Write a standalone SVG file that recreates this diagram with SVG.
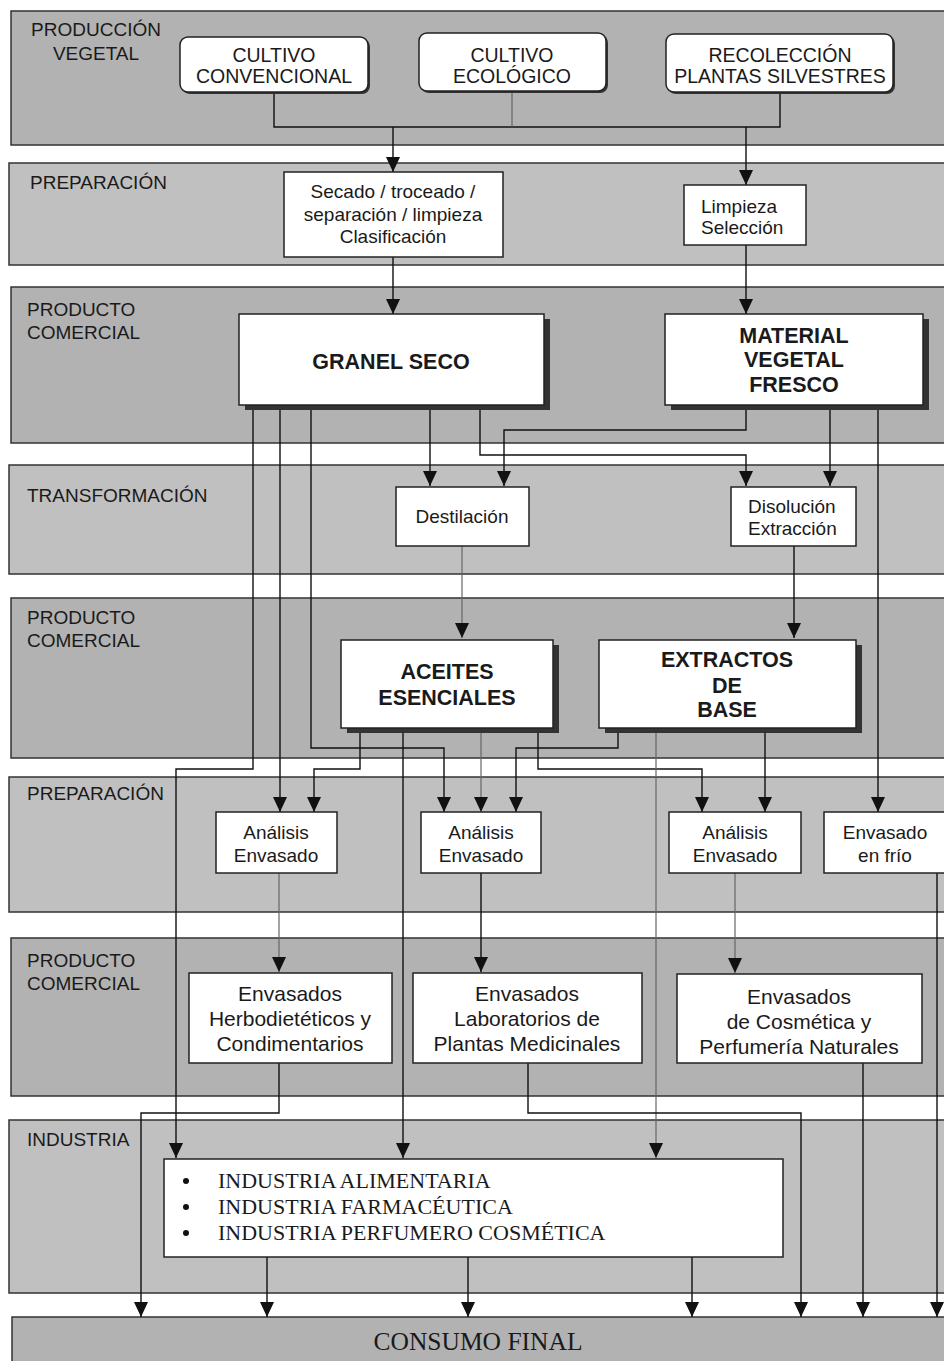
<svg xmlns="http://www.w3.org/2000/svg" width="944" height="1361" viewBox="0 0 944 1361">
  <style>
    .band-d { fill: #b2b2b2; stroke: #333; stroke-width: 1.5; }
    .band-l { fill: #c0c0c0; stroke: #333; stroke-width: 1.5; }
    .lbl { font-family: "Liberation Sans", Arial, sans-serif; font-size: 19px; fill: #1a1a1a; }
    .box { fill: #fff; stroke: #222; stroke-width: 1.5; }
    .shadow { fill: #333; }
    .t { font-family: "Liberation Sans", Arial, sans-serif; font-size: 19px; fill: #1a1a1a; text-anchor: middle; }
    .ts { font-family: "Liberation Sans", Arial, sans-serif; font-size: 19px; fill: #1a1a1a; text-anchor: start; }
    .tr { font-family: "Liberation Sans", Arial, sans-serif; font-size: 19.5px; fill: #1a1a1a; text-anchor: middle; }
    .tl { font-family: "Liberation Sans", Arial, sans-serif; font-size: 21px; fill: #1a1a1a; text-anchor: middle; }
    .tb { font-family: "Liberation Sans", Arial, sans-serif; font-size: 21.5px; font-weight: bold; fill: #1a1a1a; text-anchor: middle; }
    .serif { font-family: "Liberation Serif", "Times New Roman", serif; font-size: 22px; fill: #1a1a1a; }
    .c { fill: none; stroke: #111; stroke-width: 1.4; }
    .cg { fill: none; stroke: #666; stroke-width: 1.2; }
  </style>
  <defs>
    <marker id="arr" viewBox="0 0 15 14" refX="15" refY="7" markerWidth="15" markerHeight="14" markerUnits="userSpaceOnUse" orient="auto">
      <path d="M0,0 L15,7 L0,14 Z" fill="#111"/>
    </marker>
  </defs>

  <rect width="944" height="1361" fill="#fff"/>

  <!-- horizontal stage bands -->
  <g id="bands">
    <rect class="band-d" x="11" y="11" width="960" height="134"/>
    <rect class="band-l" x="9" y="163" width="960" height="102"/>
    <rect class="band-d" x="11" y="287" width="960" height="156"/>
    <rect class="band-l" x="9" y="465" width="960" height="109"/>
    <rect class="band-d" x="11" y="598" width="960" height="160"/>
    <rect class="band-l" x="9" y="777" width="960" height="135"/>
    <rect class="band-d" x="11" y="938" width="960" height="158"/>
    <rect class="band-l" x="9" y="1120" width="960" height="173"/>
    <rect class="band-d" x="12" y="1317" width="960" height="60"/>
  </g>

  <g id="band-labels">
    <text class="lbl" x="96" y="36" text-anchor="middle">PRODUCCIÓN</text>
    <text class="lbl" x="96" y="60" text-anchor="middle">VEGETAL</text>
    <text class="lbl" x="30" y="189">PREPARACIÓN</text>
    <text class="lbl" x="27" y="316">PRODUCTO</text>
    <text class="lbl" x="27" y="339">COMERCIAL</text>
    <text class="lbl" x="27" y="502">TRANSFORMACIÓN</text>
    <text class="lbl" x="27" y="624">PRODUCTO</text>
    <text class="lbl" x="27" y="647">COMERCIAL</text>
    <text class="lbl" x="27" y="800">PREPARACIÓN</text>
    <text class="lbl" x="27" y="967">PRODUCTO</text>
    <text class="lbl" x="27" y="990">COMERCIAL</text>
    <text class="lbl" x="27" y="1146">INDUSTRIA</text>
  </g>

  <!-- connectors -->
  <g id="connectors">
    <path class="c" d="M274,92 V127 H780 V92"/>
    <path class="cg" d="M512,91 V127"/>
    <path class="c" d="M393,127 V172" marker-end="url(#arr)"/>
    <path class="c" d="M746,127 V185" marker-end="url(#arr)"/>
    <path class="c" d="M393,257 V314" marker-end="url(#arr)"/>
    <path class="c" d="M746,245 V314" marker-end="url(#arr)"/>

    <path class="c" d="M253,405 V769 H176 V1158" marker-end="url(#arr)"/>
    <path class="c" d="M280,405 V812" marker-end="url(#arr)"/>
    <path class="c" d="M311,405 V748 H444 V812" marker-end="url(#arr)"/>
    <path class="c" d="M430,405 V486" marker-end="url(#arr)"/>
    <path class="c" d="M480,405 V455 H746 V486" marker-end="url(#arr)"/>

    <path class="c" d="M746,405 V430 H504 V486" marker-end="url(#arr)"/>
    <path class="c" d="M830,405 V486" marker-end="url(#arr)"/>
    <path class="c" d="M878,405 V812" marker-end="url(#arr)"/>

    <path class="cg" d="M462,546 V638" marker-end="url(#arr)"/>
    <path class="c" d="M794,546 V638" marker-end="url(#arr)"/>

    <path class="c" d="M360,728 V769 H314 V812" marker-end="url(#arr)"/>
    <path class="c" d="M403,728 V1158" marker-end="url(#arr)"/>
    <path class="cg" d="M481,728 V812" marker-end="url(#arr)"/>
    <path class="c" d="M538,728 V769 H702 V812" marker-end="url(#arr)"/>

    <path class="c" d="M618,728 V748 H516 V812" marker-end="url(#arr)"/>
    <path class="cg" d="M656,728 V1158" marker-end="url(#arr)"/>
    <path class="c" d="M765,728 V812" marker-end="url(#arr)"/>

    <path class="cg" d="M279,873 V972" marker-end="url(#arr)"/>
    <path class="c" d="M481,873 V972" marker-end="url(#arr)"/>
    <path class="cg" d="M735,873 V973" marker-end="url(#arr)"/>
    <path class="c" d="M937,873 V1317" marker-end="url(#arr)"/>

    <path class="c" d="M279,1063 V1113 H141 V1317" marker-end="url(#arr)"/>
    <path class="c" d="M528,1063 V1113 H801 V1317" marker-end="url(#arr)"/>
    <path class="c" d="M863,1063 V1317" marker-end="url(#arr)"/>

    <path class="c" d="M267,1257 V1317" marker-end="url(#arr)"/>
    <path class="c" d="M468,1257 V1317" marker-end="url(#arr)"/>
    <path class="c" d="M692,1257 V1317" marker-end="url(#arr)"/>
  </g>

  <!-- plant production sources -->
  <g id="cultivo-convencional">
    <rect class="shadow" x="182" y="39" width="188" height="55" rx="8"/>
    <rect class="box" x="180" y="37" width="188" height="55" rx="8"/>
    <text class="tr" x="274" y="62">CULTIVO</text>
    <text class="tr" x="274" y="83">CONVENCIONAL</text>
  </g>
  <g id="cultivo-ecologico">
    <rect class="shadow" x="421" y="35" width="187" height="58" rx="8"/>
    <rect class="box" x="419" y="33" width="187" height="58" rx="8"/>
    <text class="tr" x="512" y="62">CULTIVO</text>
    <text class="tr" x="512" y="83">ECOLÓGICO</text>
  </g>
  <g id="recoleccion">
    <rect class="shadow" x="668" y="36" width="227" height="58" rx="8"/>
    <rect class="box" x="666" y="34" width="227" height="58" rx="8"/>
    <text class="tr" x="780" y="62">RECOLECCIÓN</text>
    <text class="tr" x="780" y="83">PLANTAS SILVESTRES</text>
  </g>

  <!-- preparation -->
  <g id="secado">
    <rect class="box" x="284" y="172" width="219" height="85"/>
    <text class="t" x="393" y="198">Secado / troceado /</text>
    <text class="t" x="393" y="221">separación / limpieza</text>
    <text class="t" x="393" y="243">Clasificación</text>
  </g>
  <g id="limpieza">
    <rect class="box" x="684" y="185" width="122" height="60"/>
    <text class="ts" x="701" y="213">Limpieza</text>
    <text class="ts" x="701" y="234">Selección</text>
  </g>

  <!-- commercial products -->
  <g id="granel-seco">
    <rect class="shadow" x="245" y="319" width="305" height="91"/>
    <rect class="box" x="239" y="314" width="305" height="91"/>
    <text class="tb" x="391" y="369">GRANEL SECO</text>
  </g>
  <g id="material-fresco">
    <rect class="shadow" x="671" y="319" width="258" height="91"/>
    <rect class="box" x="665" y="314" width="258" height="91"/>
    <text class="tb" x="794" y="343">MATERIAL</text>
    <text class="tb" x="794" y="367">VEGETAL</text>
    <text class="tb" x="794" y="392">FRESCO</text>
  </g>

  <!-- transformation -->
  <g id="destilacion">
    <rect class="box" x="396" y="487" width="133" height="59"/>
    <text class="t" x="462" y="523">Destilación</text>
  </g>
  <g id="disolucion">
    <rect class="box" x="731" y="487" width="125" height="59"/>
    <text class="ts" x="748" y="513">Disolución</text>
    <text class="ts" x="748" y="535">Extracción</text>
  </g>

  <g id="aceites">
    <rect class="shadow" x="347" y="645" width="212" height="88"/>
    <rect class="box" x="341" y="640" width="212" height="88"/>
    <text class="tb" x="447" y="679">ACEITES</text>
    <text class="tb" x="447" y="705">ESENCIALES</text>
  </g>
  <g id="extractos">
    <rect class="shadow" x="605" y="645" width="257" height="88"/>
    <rect class="box" x="599" y="640" width="257" height="88"/>
    <text class="tb" x="727" y="667">EXTRACTOS</text>
    <text class="tb" x="727" y="693">DE</text>
    <text class="tb" x="727" y="717">BASE</text>
  </g>

  <!-- analysis and packaging -->
  <g id="analisis-1">
    <rect class="box" x="216" y="812" width="121" height="61"/>
    <text class="t" x="276" y="839">Análisis</text>
    <text class="t" x="276" y="862">Envasado</text>
  </g>
  <g id="analisis-2">
    <rect class="box" x="421" y="812" width="120" height="61"/>
    <text class="t" x="481" y="839">Análisis</text>
    <text class="t" x="481" y="862">Envasado</text>
  </g>
  <g id="analisis-3">
    <rect class="box" x="669" y="812" width="132" height="61"/>
    <text class="t" x="735" y="839">Análisis</text>
    <text class="t" x="735" y="862">Envasado</text>
  </g>
  <g id="envasado-frio">
    <rect class="box" x="824" y="812" width="124" height="61"/>
    <text class="t" x="885" y="839">Envasado</text>
    <text class="t" x="885" y="862">en frío</text>
  </g>

  <g id="envasados-herbo">
    <rect class="box" x="189" y="973" width="203" height="90"/>
    <text class="tl" x="290" y="1001">Envasados</text>
    <text class="tl" x="290" y="1026">Herbodietéticos y</text>
    <text class="tl" x="290" y="1051">Condimentarios</text>
  </g>
  <g id="envasados-lab">
    <rect class="box" x="413" y="973" width="229" height="90"/>
    <text class="tl" x="527" y="1001">Envasados</text>
    <text class="tl" x="527" y="1026">Laboratorios de</text>
    <text class="tl" x="527" y="1051">Plantas Medicinales</text>
  </g>
  <g id="envasados-cosmetica">
    <rect class="box" x="677" y="974" width="245" height="89"/>
    <text class="tl" x="799" y="1004">Envasados</text>
    <text class="tl" x="799" y="1029">de Cosmética y</text>
    <text class="tl" x="799" y="1054">Perfumería Naturales</text>
  </g>

  <!-- industry -->
  <g id="industria">
    <rect class="box" x="164" y="1159" width="619" height="98"/>
    <circle cx="186" cy="1181" r="3" fill="#111"/>
    <circle cx="186" cy="1207" r="3" fill="#111"/>
    <circle cx="186" cy="1233" r="3" fill="#111"/>
    <text class="serif" x="218" y="1188">INDUSTRIA ALIMENTARIA</text>
    <text class="serif" x="218" y="1214">INDUSTRIA FARMACÉUTICA</text>
    <text class="serif" x="218" y="1240">INDUSTRIA PERFUMERO COSMÉTICA</text>
  </g>

  <g id="consumo-final">
    <text class="serif" x="478" y="1350" text-anchor="middle" style="font-size:25.5px">CONSUMO FINAL</text>
  </g>
</svg>
